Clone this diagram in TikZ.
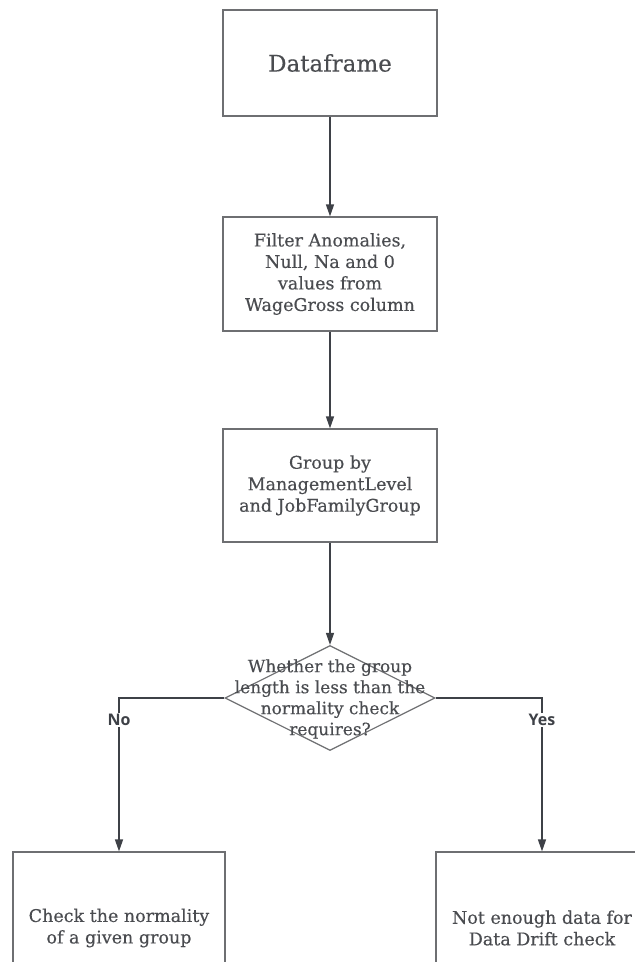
\documentclass[tikz,border=0pt]{standalone}
\usepackage{fontspec}
\setmainfont{DejaVu Serif}[FakeBold=0.35]
\newfontfamily\labelfont{Open Sans}
\usetikzlibrary{arrows.meta,shapes.geometric}
\definecolor{linegray}{HTML}{3E4147}
\definecolor{boxgray}{HTML}{6E6F72}
\definecolor{textgray}{HTML}{4A4C50}
\tikzset{
  procbox/.style={draw=boxgray, line width=1.2pt, fill=white, rectangle,
    minimum width=214pt, inner sep=0pt, text=textgray, align=center,
    font=\fontsize{17.5}{21.5}\selectfont},
  flow/.style={draw=linegray, line width=1.4pt,
    -{Triangle[length=12pt,width=8pt]}},
  branchlabel/.style={fill=white, inner sep=1.5pt, text=linegray,
    font=\labelfont\bfseries\fontsize{16}{18}\selectfont}
}
\begin{document}
\begin{tikzpicture}[x=1pt,y=-1pt]
  \path[use as bounding box] (0,0) rectangle (635,962);
  \clip (0,0) rectangle (635,962);

  % main column of steps
  \node[procbox, minimum height=106pt, font=\fontsize{23}{27}\selectfont] (df) at (330,63) {Dataframe};
  \node[procbox, minimum height=114pt] (filt) at (330,274)
    {Filter Anomalies,\\Null, Na and 0\\values from\\WageGross column};
  \node[procbox, minimum height=113pt] (grp) at (330,485.5)
    {Group by\\ManagementLevel\\and JobFamilyGroup};

  % decision
  \node[draw=boxgray, line width=1.2pt, shape=diamond, minimum width=210pt,
    minimum height=105pt, inner sep=0pt] (dec) at (330,698) {};
  \node[text=textgray, align=center, font=\fontsize{17}{21}\selectfont] (dectext) at (330,699)
    {Whether the group\\length is less than the\\normality check\\requires?};

  % outcomes
  \node[procbox, minimum width=212pt, minimum height=152pt] (lbox) at (119,928)
    {Check the normality\\of a given group};
  \node[procbox, minimum width=212pt, minimum height=152pt] (rbox) at (542,928)
    {Not enough data for\\Data Drift check};

  % connectors
  \draw[flow] (df.south) -- (filt.north);
  \draw[flow] (filt.south) -- (grp.north);
  \draw[flow] (grp.south) -- (dec.north);
  \draw[flow] (dec.west) -| node[branchlabel, pos=0.571] {No} (lbox.north);
  \draw[flow] (dec.east) -| node[branchlabel, pos=0.571] {Yes} (rbox.north);
\end{tikzpicture}
\end{document}
